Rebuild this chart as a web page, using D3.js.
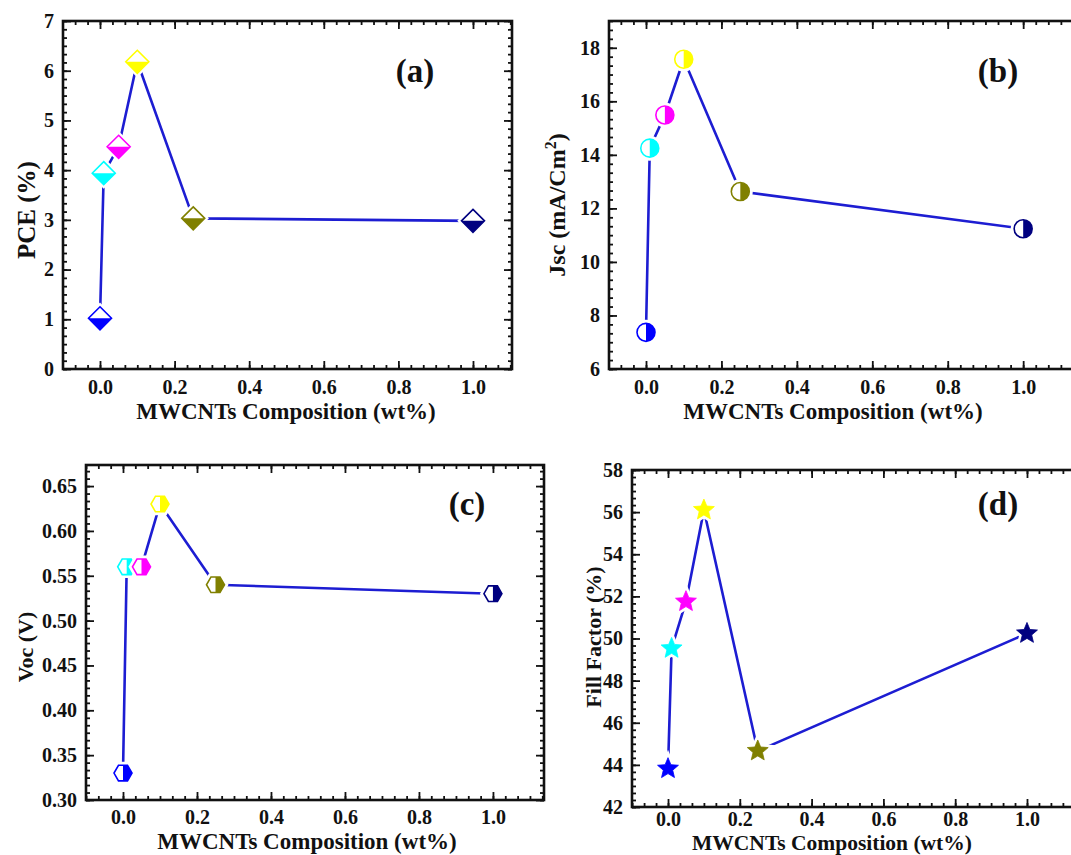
<!DOCTYPE html>
<html>
<head>
<meta charset="utf-8">
<script src="https://cdn.jsdelivr.net/npm/d3@7"></script>
<style>
  html, body { margin: 0; padding: 0; background: #fff; }
  svg { display: block; }
  text { font-family: "Liberation Serif", "Times New Roman", serif; font-weight: bold; fill: #111; }
</style>
</head>
<body>
<svg id="chart" width="1071" height="855"></svg>
<script>
// MWCNT loading in the photoanode (wt%)
const composition = [0, 0.01, 0.05, 0.1, 0.25, 1.0];
// photovoltaic parameters per composition
const pce = [1.02, 3.94, 4.47, 6.18, 3.03, 2.98];
const jsc = [7.37, 14.25, 15.49, 17.57, 12.63, 11.24];
const voc = [0.33, 0.56, 0.56, 0.63, 0.54, 0.53];
const fillFactor = [43.82, 49.53, 51.75, 56.1, 44.66, 50.24];
// one colour per composition
const pointColors = ["#0000ff", "#00ffff", "#ff00ff", "#ffff00", "#808000", "#000080"];

// tick labels
const xTicks = [0.0, 0.2, 0.4, 0.6, 0.8, 1.0];
const pceTicks = [0, 1, 2, 3, 4, 5, 6, 7];
const jscTicks = [6, 8, 10, 12, 14, 16, 18];
const vocTicks = [0.30, 0.35, 0.40, 0.45, 0.50, 0.55, 0.60, 0.65];
const ffTicks = [42, 44, 46, 48, 50, 52, 54, 56, 58];

const svg = d3.select("#chart");
const lineColor = "#1d1dd2";

// minor ticks: five between consecutive majors, spread over the whole domain
function minorTicks(majors, domain) {
  const step = (majors[1] - majors[0]) / 6;
  const out = [];
  const start = majors[0] - Math.floor((majors[0] - domain[0]) / step + 1e-9) * step;
  for (let v = start; v <= domain[1] + 1e-9; v += step) out.push(+v.toFixed(6));
  return out;
}

// marker shapes
function diamondMarker(g, c, r) {
  g.append("path").attr("d", `M0,${-r}L${r},0L0,${r}L${-r},0Z`)
    .attr("fill", "#fff").attr("stroke", "#fff").attr("stroke-width", 6);
  g.append("path").attr("d", `M${-r},0L${r},0L0,${r}Z`).attr("fill", c);
  g.append("path").attr("d", `M0,${-r}L${r},0L0,${r}L${-r},0Z`)
    .attr("fill", "none").attr("stroke", c).attr("stroke-width", 1.6);
}
function circleMarker(g, c, r) {
  g.append("circle").attr("r", r).attr("fill", "#fff").attr("stroke", "#fff").attr("stroke-width", 7);
  g.append("path").attr("d", `M0,${-r}A${r},${r} 0 0 1 0,${r}Z`).attr("fill", c);
  g.append("circle").attr("r", r).attr("fill", "none").attr("stroke", c).attr("stroke-width", 1.6);
}
function hexMarker(g, c, r) {
  const h = r * Math.sqrt(3) / 2;
  const full = `M${r},0L${r / 2},${h}L${-r / 2},${h}L${-r},0L${-r / 2},${-h}L${r / 2},${-h}Z`;
  g.append("path").attr("d", full).attr("fill", "#fff").attr("stroke", "#fff").attr("stroke-width", 7);
  g.append("path").attr("d", `M0,${-h}L${r / 2},${-h}L${r},0L${r / 2},${h}L0,${h}Z`).attr("fill", c);
  g.append("path").attr("d", full).attr("fill", "none").attr("stroke", c).attr("stroke-width", 1.6);
}
function starMarker(g, c, r) {
  const pts = [];
  for (let i = 0; i < 10; i++) {
    const a = -Math.PI / 2 + i * Math.PI / 5;
    const rr = i % 2 === 0 ? r : r * 0.45;
    pts.push([rr * Math.cos(a), rr * Math.sin(a)]);
  }
  const d = "M" + pts.map(p => p.join(",")).join("L") + "Z";
  g.append("path").attr("d", d).attr("fill", "#fff").attr("stroke", "#fff").attr("stroke-width", 6);
  g.append("path").attr("d", d).attr("fill", c).attr("stroke", c).attr("stroke-width", 0.8);
}

function panel(cfg) {
  const { left, right, top, bottom } = cfg.box;
  const x = d3.scaleLinear().domain(cfg.xDomain).range([left, right]);
  const y = d3.scaleLinear().domain(cfg.yDomain).range([bottom, top]);
  const g = svg.append("g");

  const xMinor = minorTicks(xTicks, cfg.xDomain);
  const yMinor = minorTicks(cfg.yTicks, cfg.yDomain);

  const styleAxis = sel => {
    sel.attr("font-family", null);
    sel.select(".domain").remove();
    sel.selectAll("line").attr("stroke", "#111").attr("stroke-width", 1.8);
    sel.selectAll("text").style("font-size", "20px").attr("fill", "#111");
  };

  // minor ticks on all four sides
  g.append("g").attr("transform", `translate(0,${bottom})`)
    .call(d3.axisBottom(x).tickValues(xMinor).tickSize(-4).tickFormat("")).call(styleAxis);
  g.append("g").attr("transform", `translate(0,${top})`)
    .call(d3.axisTop(x).tickValues(xMinor).tickSize(-4).tickFormat("")).call(styleAxis);
  g.append("g").attr("transform", `translate(${left},0)`)
    .call(d3.axisLeft(y).tickValues(yMinor).tickSize(-4).tickFormat("")).call(styleAxis);
  g.append("g").attr("transform", `translate(${right},0)`)
    .call(d3.axisRight(y).tickValues(yMinor).tickSize(-4).tickFormat("")).call(styleAxis);

  // major ticks with labels on bottom/left
  g.append("g").attr("transform", `translate(0,${bottom})`)
    .call(d3.axisBottom(x).tickValues(xTicks).tickSizeInner(-8).tickSizeOuter(0)
      .tickPadding(cfg.xPad).tickFormat(d3.format(".1f"))).call(styleAxis);
  g.append("g").attr("transform", `translate(0,${top})`)
    .call(d3.axisTop(x).tickValues(xTicks).tickSizeInner(-8).tickSizeOuter(0).tickFormat("")).call(styleAxis);
  g.append("g").attr("transform", `translate(${left},0)`)
    .call(d3.axisLeft(y).tickValues(cfg.yTicks).tickSizeInner(-8).tickSizeOuter(0)
      .tickPadding(9).tickFormat(d3.format(cfg.yFormat))).call(styleAxis);
  g.append("g").attr("transform", `translate(${right},0)`)
    .call(d3.axisRight(y).tickValues(cfg.yTicks).tickSizeInner(-8).tickSizeOuter(0).tickFormat("")).call(styleAxis);

  // plot frame
  g.append("rect").attr("x", left).attr("y", top)
    .attr("width", right - left).attr("height", bottom - top)
    .attr("fill", "none").attr("stroke", "#111").attr("stroke-width", 2.6);

  // connecting line
  const pts = composition.map((c, i) => [c, cfg.values[i]]);
  g.append("path").datum(pts)
    .attr("d", d3.line().x(d => x(d[0])).y(d => y(d[1])))
    .attr("fill", "none").attr("stroke", lineColor).attr("stroke-width", 2.6)
    .attr("stroke-linejoin", "round");

  // markers
  pts.forEach((p, i) => {
    const mg = g.append("g").attr("transform", `translate(${x(p[0])},${y(p[1])})`);
    cfg.marker(mg, pointColors[i], cfg.markerSize);
  });

  // axis titles
  g.append("text").attr("x", cfg.xTitlePos[0]).attr("y", cfg.xTitlePos[1])
    .attr("text-anchor", "middle").style("font-size", cfg.xTitleFont + "px")
    .text("MWCNTs Composition (wt%)");
  const yt = g.append("text")
    .attr("transform", `translate(${cfg.yTitlePos[0]},${cfg.yTitlePos[1]}) rotate(-90)`)
    .attr("text-anchor", "middle").style("font-size", cfg.yTitleFont + "px");
  cfg.yTitle(yt);

  // panel tag
  g.append("text").attr("x", cfg.tagPos[0]).attr("y", cfg.tagPos[1])
    .attr("text-anchor", "middle").style("font-size", "33px").text(cfg.tag);
}

panel({
  box: { left: 63, right: 512, top: 21, bottom: 369 },
  xDomain: [-0.0992, 1.1046], yDomain: [0, 7], yTicks: pceTicks, yFormat: "d",
  values: pce, marker: diamondMarker, markerSize: 11.5, xPad: 11,
  xTitlePos: [286, 419], xTitleFont: 23, yTitlePos: [35, 210], yTitleFont: 25,
  yTitle: t => t.text("PCE (%)"), tag: "(a)", tagPos: [415, 82]
});

panel({
  box: { left: 609, right: 1082, top: 21, bottom: 369 },
  xDomain: [-0.0981, 1.156], yDomain: [6, 19], yTicks: jscTicks, yFormat: "d",
  values: jsc, marker: circleMarker, markerSize: 9, xPad: 11,
  xTitlePos: [833, 419], xTitleFont: 23, yTitlePos: [565, 205], yTitleFont: 24,
  yTitle: t => {
    t.append("tspan").text("Jsc (mA/Cm");
    t.append("tspan").attr("dy", -9).style("font-size", "16px").text("2");
    t.append("tspan").attr("dy", 9).text(")");
  },
  tag: "(b)", tagPos: [998, 82]
});

panel({
  box: { left: 86, right: 544, top: 465, bottom: 800 },
  xDomain: [-0.1, 1.138], yDomain: [0.30, 0.6735], yTicks: vocTicks, yFormat: ".2f",
  values: voc, marker: hexMarker, markerSize: 9, xPad: 10,
  xTitlePos: [307, 849], xTitleFont: 23, yTitlePos: [33, 647], yTitleFont: 22,
  yTitle: t => t.text("Voc (V)"), tag: "(c)", tagPos: [467, 515]
});

panel({
  box: { left: 632, right: 1085, top: 470, bottom: 807 },
  xDomain: [-0.1003, 1.1616], yDomain: [42, 58], yTicks: ffTicks, yFormat: "d",
  values: fillFactor, marker: starMarker, markerSize: 11, xPad: 5,
  xTitlePos: [832, 850], xTitleFont: 21.5, yTitlePos: [601, 637], yTitleFont: 22,
  yTitle: t => t.text("Fill Factor (%)"), tag: "(d)", tagPos: [998, 515]
});
</script>
</body>
</html>
